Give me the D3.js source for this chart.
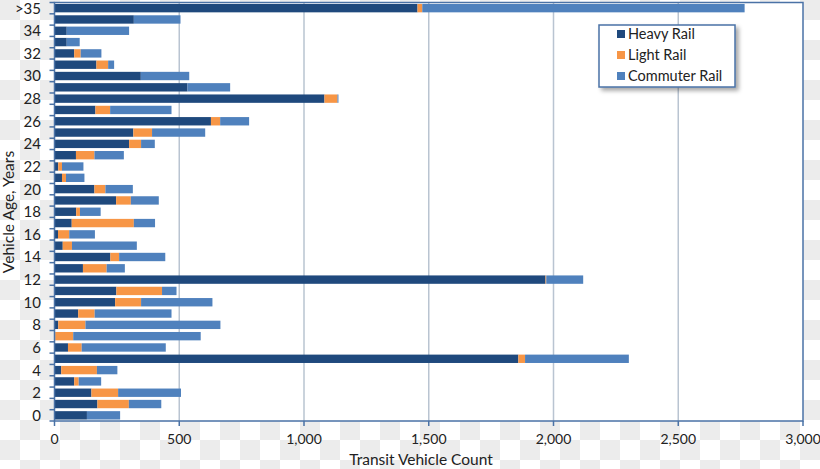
<!DOCTYPE html>
<html><head><meta charset="utf-8">
<script src="https://cdn.jsdelivr.net/npm/d3@7"></script>
<style>body{margin:0;background:#fff;} svg{display:block;}</style>
</head><body>
<svg id="chart" width="820" height="469"></svg>
<script>
const ages = ["0","1","2","3","4","5","6","7","8","9","10","11","12","13","14","15","16","17","18","19","20","21","22","23","24","25","26","27","28","29","30","31","32","33","34","35",">35"];
const heavyRail    = [130,172,148,79,27,1859,54,3,15,95,243,248,1968,114,224,33,14,69,87,247,160,30,15,86,299,316,627,164,1082,533,346,168,79,49,49,318,1455];
const lightRail    = [0,126,107,18,143,27,55,72,109,66,104,183,3,95,35,37,45,249,15,59,44,16,15,74,48,75,37,59,52,0,0,47,26,0,0,0,19];
const commuterRail = [133,130,252,90,82,416,337,511,541,308,286,58,148,73,185,260,103,85,83,112,110,74,86,118,55,213,116,246,4,171,194,24,83,52,250,187,1292];
const seriesNames = ["Heavy Rail","Light Rail","Commuter Rail"];
const seriesColors = ["#1f497d","#f79646","#4f81bd"];
const xTicks = [0,500,1000,1500,2000,2500,3000];
const yTickLabels = ["0","2","4","6","8","10","12","14","16","18","20","22","24","26","28","30","32","34",">35"];

const W = 820, H = 469;
const L = 54.5, R = 803, T = 2.5, B = 421;
const font = "Lato, 'Open Sans', sans-serif";
const axisColor = "#4a72a6";

const svg = d3.select("#chart");
const defs = svg.append("defs");
const pat = defs.append("pattern").attr("id","checker").attr("width",40).attr("height",40).attr("patternUnits","userSpaceOnUse");
pat.append("rect").attr("width",40).attr("height",40).attr("fill","#ffffff");
pat.append("rect").attr("width",20).attr("height",20).attr("fill","#ececec");
pat.append("rect").attr("x",20).attr("y",20).attr("width",20).attr("height",20).attr("fill","#ececec");
const filt = defs.append("filter").attr("id","shadow").attr("x","-20%").attr("y","-20%").attr("width","150%").attr("height","150%");
filt.append("feDropShadow").attr("dx",3).attr("dy",3).attr("stdDeviation",2).attr("flood-color","#000").attr("flood-opacity",0.35);

svg.append("rect").attr("width",W).attr("height",H).attr("fill","url(#checker)");
svg.append("rect").attr("x",L).attr("y",T).attr("width",R-L).attr("height",B-T).attr("fill","#fff");

const x = d3.scaleLinear().domain([0,3000]).range([L,R]);
const y = d3.scaleBand().domain(ages).range([B,T]).paddingInner(0.26).paddingOuter(0.13);
const yb = d3.scaleBand().domain(ages).range([B,T]);

// gridlines
svg.append("g").selectAll("line").data(xTicks.filter(d=>d>0&&d<3000)).join("line")
  .attr("x1",d=>x(d)).attr("x2",d=>x(d)).attr("y1",T).attr("y2",B)
  .attr("stroke","#b9c4d1").attr("stroke-width",1.5);

// stacked bars
const table = ages.map((a,i)=>({age:a, "Heavy Rail":heavyRail[i], "Light Rail":lightRail[i], "Commuter Rail":commuterRail[i]}));
const stack = d3.stack().keys(seriesNames)(table);
svg.append("g").selectAll("g").data(stack).join("g")
  .attr("fill",(d,i)=>seriesColors[i])
  .selectAll("rect").data(d=>d).join("rect")
  .attr("x",d=>x(d[0])).attr("width",d=>Math.max(0,x(d[1])-x(d[0])))
  .attr("y",d=>y(d.data.age)).attr("height",y.bandwidth());

// plot border
svg.append("rect").attr("x",L).attr("y",T).attr("width",R-L).attr("height",B-T)
  .attr("fill","none").attr("stroke",axisColor).attr("stroke-width",1.5);

// left ticks at band boundaries
const bounds = ages.map(a=>yb(a)).concat([yb(ages[0])+yb.bandwidth()]);
svg.append("g").selectAll("line").data(bounds).join("line")
  .attr("x1",L-5).attr("x2",L).attr("y1",d=>d).attr("y2",d=>d)
  .attr("stroke",axisColor).attr("stroke-width",1.5);

// bottom ticks
svg.append("g").selectAll("line").data(xTicks).join("line")
  .attr("x1",d=>x(d)).attr("x2",d=>x(d)).attr("y1",B).attr("y2",B+5)
  .attr("stroke",axisColor).attr("stroke-width",1.5);

// x labels
const fmt = d3.format(",");
svg.append("g").selectAll("text").data(xTicks).join("text")
  .attr("x",d=>x(d)).attr("y",444).attr("text-anchor","middle")
  .attr("font-family",font).attr("font-size",14).attr("fill","#222")
  .text(d=>fmt(d));

// y labels
svg.append("g").selectAll("text").data(yTickLabels).join("text")
  .attr("x",41).attr("y",d=>y(d)+y.bandwidth()/2).attr("dy","0.36em").attr("text-anchor","end")
  .attr("font-family",font).attr("font-size",15).attr("fill","#222")
  .text(d=>d);

// axis titles
svg.append("text").attr("x",421).attr("y",465).attr("text-anchor","middle")
  .attr("font-family",font).attr("font-size",15.5).attr("fill","#222").text("Transit Vehicle Count");
svg.append("text").attr("transform","translate(14,212) rotate(-90)").attr("text-anchor","middle")
  .attr("font-family",font).attr("font-size",15.5).attr("fill","#222").text("Vehicle Age, Years");

// legend
const lg = svg.append("g");
lg.append("rect").attr("x",599).attr("y",25).attr("width",136).attr("height",62)
  .attr("fill","#fff").attr("stroke",axisColor).attr("stroke-width",1.5).attr("filter","url(#shadow)");
const items = lg.selectAll("g.item").data(seriesNames).join("g")
  .attr("transform",(d,i)=>`translate(617,${34+i*21})`);
items.append("rect").attr("x",0).attr("y",-4).attr("width",8).attr("height",8).attr("fill",(d,i)=>seriesColors[i]);
items.append("text").attr("x",11).attr("y",0).attr("dy","0.36em")
  .attr("font-family",font).attr("font-size",14.5).attr("fill","#222").text(d=>d);
</script>
</body></html>
